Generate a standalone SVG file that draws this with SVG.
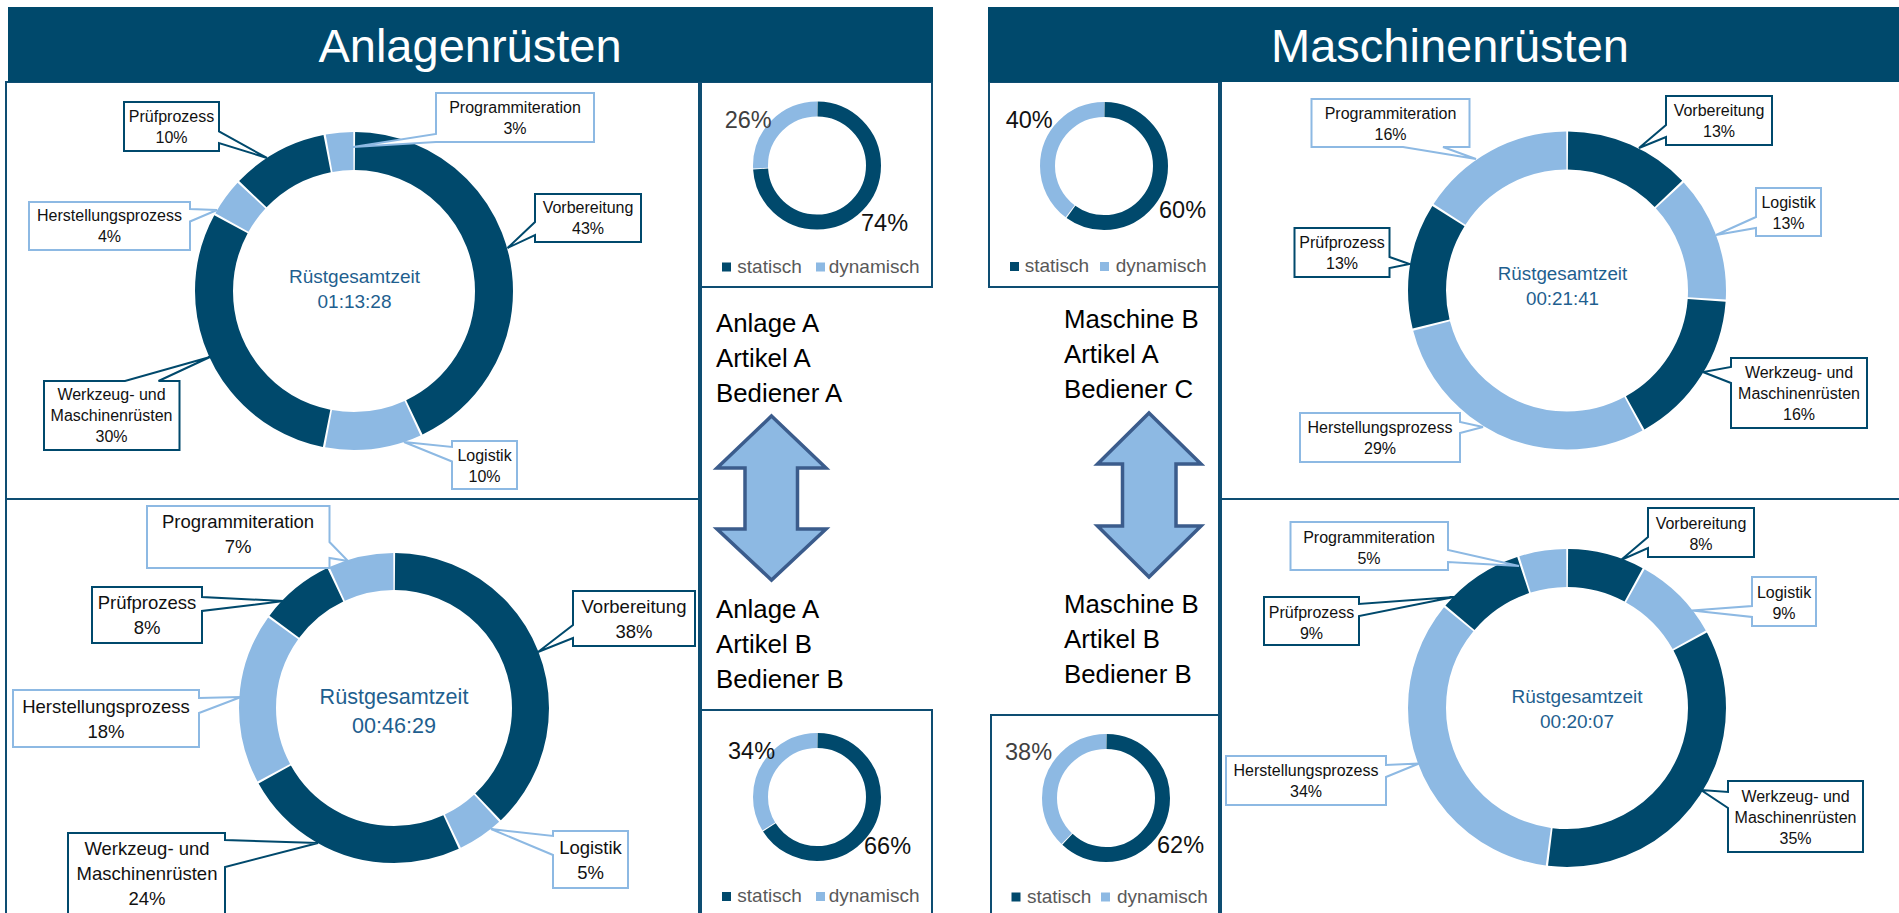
<svg xmlns="http://www.w3.org/2000/svg" width="1899" height="913" viewBox="0 0 1899 913">
<style>
text{font-family:"Liberation Sans",Arial,sans-serif}
.frame{fill:none;stroke:#0E4D72;stroke-width:2}
.hdrbg{fill:#00496C}
.hdr{fill:#fff;font-size:47px;text-anchor:middle}
.dk{fill:none;stroke:#00496C}
.lt{fill:none;stroke:#8DB9E3}
.cd{fill:#fff;stroke:#00496C;stroke-width:2}
.cl{fill:#fff;stroke:#8DB9E3;stroke-width:2}
.lbl{font-size:16px;fill:#111;text-anchor:middle}
.lbl2{font-size:18.5px;fill:#111;text-anchor:middle}
.ctr{fill:#1F5F8F;text-anchor:middle}
.mid{font-size:25.8px;fill:#000}
.pct{font-size:23.5px;fill:#111}
.pctg{font-size:23.5px;fill:#404040}
.leg{font-size:19px;fill:#595959}
.arrow{fill:#8DB9E3;stroke:#3B5C8C;stroke-width:3.5;stroke-linejoin:miter}
</style>

<!-- frames -->
<g id="frames">
<rect x="6" y="82" width="693" height="840" class="frame"/>
<line x1="6" y1="499" x2="701" y2="499" class="frame"/>
<line x1="701" y1="82" x2="701" y2="913" class="frame"/>
<rect x="701" y="82" width="231" height="205" class="frame"/>
<rect x="701" y="710" width="231" height="210" class="frame"/>
<rect x="989" y="82" width="230" height="205" class="frame"/>
<rect x="991" y="715" width="228" height="205" class="frame"/>
<line x1="1219" y1="82" x2="1219" y2="913" class="frame"/>
<line x1="1221" y1="82" x2="1221" y2="913" class="frame"/>
<line x1="1219" y1="499" x2="1899" y2="499" class="frame"/>
</g>

<!-- headers -->
<g id="header-left">
<rect x="8" y="7" width="925" height="75" class="hdrbg"/>
<text x="470" y="62" class="hdr">Anlagenrüsten</text>
</g>
<g id="header-right">
<rect x="988" y="7" width="911" height="75" class="hdrbg"/>
<text x="1450" y="62" class="hdr">Maschinenrüsten</text>
</g>

<!-- Top-left donut -->
<g id="chart-tl">
<g transform="rotate(-90 354 291)" stroke-width="38">
<circle cx="354" cy="291" r="140" class="dk" stroke-dasharray="376.25 2000" stroke-dashoffset="-1"/>
<circle cx="354" cy="291" r="140" class="lt" stroke-dasharray="85.96 2000" stroke-dashoffset="-379.25"/>
<circle cx="354" cy="291" r="140" class="dk" stroke-dasharray="261.89 2000" stroke-dashoffset="-467.21"/>
<circle cx="354" cy="291" r="140" class="lt" stroke-dasharray="33.19 2000" stroke-dashoffset="-731.11"/>
<circle cx="354" cy="291" r="140" class="dk" stroke-dasharray="85.96 2000" stroke-dashoffset="-766.29"/>
<circle cx="354" cy="291" r="140" class="lt" stroke-dasharray="24.39 2000" stroke-dashoffset="-854.26"/>
</g>
<text x="354.5" y="283" class="ctr" font-size="19">Rüstgesamtzeit</text>
<text x="354.5" y="308" class="ctr" font-size="19">01:13:28</text>
</g>
<g id="tl-pruef"><path class="cd" d="M124 102 H219 V131.5 L267 158 L219 143 V151 H124 Z"/><text class="lbl" x="171.5" y="122">Prüfprozess</text><text class="lbl" x="171.5" y="143">10%</text></g>
<g id="tl-prog"><path class="cl" d="M436 93 H594 V142 H436 L353 147 L436 134 Z"/><text class="lbl" x="515" y="112.5">Programmiteration</text><text class="lbl" x="515" y="133.5">3%</text></g>
<g id="tl-vorb"><path class="cd" d="M535 194 H641 V242 H535 V235 L507.5 248 L535 222 Z"/><text class="lbl" x="588" y="213">Vorbereitung</text><text class="lbl" x="588" y="234">43%</text></g>
<g id="tl-herst"><path class="cl" d="M29 202 H190 V209 L217 210 L190 221.5 V250 H29 Z"/><text class="lbl" x="109.5" y="221">Herstellungsprozess</text><text class="lbl" x="109.5" y="242">4%</text></g>
<g id="tl-werk"><path class="cd" d="M44 381 H125 L210 357 L158.5 381 H179.5 V450 H44 Z"/><text class="lbl" x="111.5" y="400">Werkzeug- und</text><text class="lbl" x="111.5" y="421">Maschinenrüsten</text><text class="lbl" x="111.5" y="442">30%</text></g>
<g id="tl-log"><path class="cl" d="M452 441 H517 V489 H452 V461.5 L404 442 L452 447 Z"/><text class="lbl" x="484.5" y="461">Logistik</text><text class="lbl" x="484.5" y="482">10%</text></g>

<!-- Bottom-left donut -->
<g id="chart-bl">
<g transform="rotate(-90 394 708)" stroke-width="37">
<circle cx="394" cy="708" r="136.5" class="dk" stroke-dasharray="323.91 2000" stroke-dashoffset="-1"/>
<circle cx="394" cy="708" r="136.5" class="lt" stroke-dasharray="40.88 2000" stroke-dashoffset="-326.91"/>
<circle cx="394" cy="708" r="136.5" class="dk" stroke-dasharray="203.84 2000" stroke-dashoffset="-369.79"/>
<circle cx="394" cy="708" r="136.5" class="lt" stroke-dasharray="152.38 2000" stroke-dashoffset="-575.63"/>
<circle cx="394" cy="708" r="136.5" class="dk" stroke-dasharray="66.61 2000" stroke-dashoffset="-730.01"/>
<circle cx="394" cy="708" r="136.5" class="lt" stroke-dasharray="58.04 2000" stroke-dashoffset="-798.62"/>
</g>
<text x="394" y="704" class="ctr" font-size="21.6">Rüstgesamtzeit</text>
<text x="394" y="733" class="ctr" font-size="21.6">00:46:29</text>
</g>
<g id="bl-prog"><path class="cl" d="M147 506 H329.5 V542 L348 561 L329.5 558 V568 H147 Z"/><text class="lbl2" x="238" y="528">Programmiteration</text><text class="lbl2" x="238" y="553">7%</text></g>
<g id="bl-pruef"><path class="cd" d="M92 587 H202 V597 L284 601 L202 611 V643 H92 Z"/><text class="lbl2" x="147" y="608.5">Prüfprozess</text><text class="lbl2" x="147" y="633.5">8%</text></g>
<g id="bl-vorb"><path class="cd" d="M573 591 H695 V646 H573 V638 L538 652 L573 625 Z"/><text class="lbl2" x="634" y="613">Vorbereitung</text><text class="lbl2" x="634" y="637.5">38%</text></g>
<g id="bl-herst"><path class="cl" d="M13 690 H199 V698 L241 697 L199 713 V747 H13 Z"/><text class="lbl2" x="106" y="713">Herstellungsprozess</text><text class="lbl2" x="106" y="737.5">18%</text></g>
<g id="bl-werk"><path class="cd" d="M68 833 H225 V840 L318 843 L225 867 V920 H68 Z"/><text class="lbl2" x="147" y="855">Werkzeug- und</text><text class="lbl2" x="147" y="880">Maschinenrüsten</text><text class="lbl2" x="147" y="905">24%</text></g>
<g id="bl-log"><path class="cl" d="M553 831 H628 V888 H553 V855 L491 829 L553 836 Z"/><text class="lbl2" x="590.5" y="854">Logistik</text><text class="lbl2" x="590.5" y="879">5%</text></g>

<!-- Top-right donut -->
<g id="chart-tr">
<g transform="rotate(-90 1567 290.5)" stroke-width="38">
<circle cx="1567" cy="290.5" r="140" class="dk" stroke-dasharray="112.35 2000" stroke-dashoffset="-1"/>
<circle cx="1567" cy="290.5" r="140" class="lt" stroke-dasharray="112.35 2000" stroke-dashoffset="-115.35"/>
<circle cx="1567" cy="290.5" r="140" class="dk" stroke-dasharray="138.74 2000" stroke-dashoffset="-229.71"/>
<circle cx="1567" cy="290.5" r="140" class="lt" stroke-dasharray="253.10 2000" stroke-dashoffset="-370.45"/>
<circle cx="1567" cy="290.5" r="140" class="dk" stroke-dasharray="112.35 2000" stroke-dashoffset="-625.55"/>
<circle cx="1567" cy="290.5" r="140" class="lt" stroke-dasharray="138.74 2000" stroke-dashoffset="-739.90"/>
</g>
<text x="1562.5" y="280" class="ctr" font-size="18.8">Rüstgesamtzeit</text>
<text x="1562.5" y="305" class="ctr" font-size="18.8">00:21:41</text>
</g>
<g id="tr-prog"><path class="cl" d="M1311.5 99 H1469.5 V147 H1443 L1476 159 L1403 147 H1311.5 Z"/><text class="lbl" x="1390.5" y="119">Programmiteration</text><text class="lbl" x="1390.5" y="140">16%</text></g>
<g id="tr-vorb"><path class="cd" d="M1666 96 H1772 V145 H1666 V137 L1639 148 L1666 125 Z"/><text class="lbl" x="1719" y="116">Vorbereitung</text><text class="lbl" x="1719" y="137">13%</text></g>
<g id="tr-log"><path class="cl" d="M1756 188 H1821 V236 H1756 V228 L1716 235 L1756 217 Z"/><text class="lbl" x="1788.5" y="208">Logistik</text><text class="lbl" x="1788.5" y="229">13%</text></g>
<g id="tr-pruef"><path class="cd" d="M1294.5 228 H1389.5 V257 L1409.5 264 L1389.5 268 V277 H1294.5 Z"/><text class="lbl" x="1342" y="248">Prüfprozess</text><text class="lbl" x="1342" y="269">13%</text></g>
<g id="tr-werk"><path class="cd" d="M1731 358 H1867 V428 H1731 V383 L1703 372 L1731 367 Z"/><text class="lbl" x="1799" y="378">Werkzeug- und</text><text class="lbl" x="1799" y="399">Maschinenrüsten</text><text class="lbl" x="1799" y="420">16%</text></g>
<g id="tr-herst"><path class="cl" d="M1300 413 H1460 V422 L1483 427 L1460 433 V462 H1300 Z"/><text class="lbl" x="1380" y="433">Herstellungsprozess</text><text class="lbl" x="1380" y="454">29%</text></g>

<!-- Bottom-right donut -->
<g id="chart-br">
<g transform="rotate(-90 1567 708)" stroke-width="38">
<circle cx="1567" cy="708" r="140" class="dk" stroke-dasharray="68.37 2000" stroke-dashoffset="-1"/>
<circle cx="1567" cy="708" r="140" class="lt" stroke-dasharray="77.17 2000" stroke-dashoffset="-71.37"/>
<circle cx="1567" cy="708" r="140" class="dk" stroke-dasharray="305.88 2000" stroke-dashoffset="-150.54"/>
<circle cx="1567" cy="708" r="140" class="lt" stroke-dasharray="297.08 2000" stroke-dashoffset="-458.42"/>
<circle cx="1567" cy="708" r="140" class="dk" stroke-dasharray="77.17 2000" stroke-dashoffset="-757.50"/>
<circle cx="1567" cy="708" r="140" class="lt" stroke-dasharray="41.98 2000" stroke-dashoffset="-836.66"/>
</g>
<text x="1577" y="703" class="ctr" font-size="19">Rüstgesamtzeit</text>
<text x="1577" y="728" class="ctr" font-size="19">00:20:07</text>
</g>
<g id="br-prog"><path class="cl" d="M1290.5 522 H1448 V550 L1519 566 L1448 562 V570 H1290.5 Z"/><text class="lbl" x="1369" y="543">Programmiteration</text><text class="lbl" x="1369" y="564">5%</text></g>
<g id="br-vorb"><path class="cd" d="M1648 508 H1754 V557 H1648 V548 L1621 560 L1648 537 Z"/><text class="lbl" x="1701" y="529">Vorbereitung</text><text class="lbl" x="1701" y="550">8%</text></g>
<g id="br-log"><path class="cl" d="M1752 577 H1816 V626 H1752 V617 L1692 610.5 L1752 606 Z"/><text class="lbl" x="1784" y="598">Logistik</text><text class="lbl" x="1784" y="619">9%</text></g>
<g id="br-pruef"><path class="cd" d="M1264 597 H1359 V604 L1454 597 L1359 616 V645 H1264 Z"/><text class="lbl" x="1311.5" y="618">Prüfprozess</text><text class="lbl" x="1311.5" y="639">9%</text></g>
<g id="br-herst"><path class="cl" d="M1226 756 H1386 V765 L1419 763.5 L1386 777 V805 H1226 Z"/><text class="lbl" x="1306" y="776">Herstellungsprozess</text><text class="lbl" x="1306" y="797">34%</text></g>
<g id="br-werk"><path class="cd" d="M1728 781 H1863 V852 H1728 V808 L1701 790 L1728 792 Z"/><text class="lbl" x="1795.5" y="802">Werkzeug- und</text><text class="lbl" x="1795.5" y="823">Maschinenrüsten</text><text class="lbl" x="1795.5" y="844">35%</text></g>

<!-- Small donuts -->
<g id="small-tl">
<g transform="rotate(-90 817 165.5)" stroke-width="15">
<circle cx="817" cy="165.5" r="56.5" class="dk" stroke-dasharray="261.69 1000" stroke-dashoffset="-0.5"/>
<circle cx="817" cy="165.5" r="56.5" class="lt" stroke-dasharray="91.30 1000" stroke-dashoffset="-263.19"/>
</g>
<text x="724.7" y="128" class="pctg">26%</text>
<text x="861" y="231" class="pct">74%</text>
<rect x="722" y="262.5" width="9" height="9" fill="#00496C"/><text x="737.3" y="272.5" class="leg">statisch</text>
<rect x="816" y="262.5" width="9" height="9" fill="#8DB9E3"/><text x="828.7" y="272.5" class="leg">dynamisch</text>
</g>
<g id="small-tr">
<g transform="rotate(-90 1104 166)" stroke-width="15">
<circle cx="1104" cy="166" r="56.5" class="dk" stroke-dasharray="211.99 1000" stroke-dashoffset="-0.5"/>
<circle cx="1104" cy="166" r="56.5" class="lt" stroke-dasharray="141.0 1000" stroke-dashoffset="-213.49"/>
</g>
<text x="1005.7" y="128" class="pct">40%</text>
<text x="1159" y="218" class="pct">60%</text>
<rect x="1010" y="262" width="9" height="9" fill="#00496C"/><text x="1024.7" y="272" class="leg">statisch</text>
<rect x="1100" y="262" width="9" height="9" fill="#8DB9E3"/><text x="1115.7" y="272" class="leg">dynamisch</text>
</g>
<g id="small-bl">
<g transform="rotate(-90 817 797)" stroke-width="15">
<circle cx="817" cy="797" r="56.5" class="dk" stroke-dasharray="233.29 1000" stroke-dashoffset="-0.5"/>
<circle cx="817" cy="797" r="56.5" class="lt" stroke-dasharray="119.70 1000" stroke-dashoffset="-234.79"/>
</g>
<text x="728" y="759" class="pct">34%</text>
<text x="864" y="854" class="pct">66%</text>
<rect x="722" y="892" width="9" height="9" fill="#00496C"/><text x="737.3" y="902" class="leg">statisch</text>
<rect x="816" y="892" width="9" height="9" fill="#8DB9E3"/><text x="828.7" y="902" class="leg">dynamisch</text>
</g>
<g id="small-br">
<g transform="rotate(-90 1106 798)" stroke-width="15">
<circle cx="1106" cy="798" r="56.5" class="dk" stroke-dasharray="219.09 1000" stroke-dashoffset="-0.5"/>
<circle cx="1106" cy="798" r="56.5" class="lt" stroke-dasharray="133.90 1000" stroke-dashoffset="-220.59"/>
</g>
<text x="1005" y="760" class="pctg">38%</text>
<text x="1157" y="853" class="pct">62%</text>
<rect x="1011.5" y="892.5" width="9" height="9" fill="#00496C"/><text x="1027" y="902.5" class="leg">statisch</text>
<rect x="1101" y="892.5" width="9" height="9" fill="#8DB9E3"/><text x="1117" y="902.5" class="leg">dynamisch</text>
</g>

<!-- Middle comparison texts -->
<g id="cmp-left-top"><text class="mid" x="716" y="331.5">Anlage A</text><text class="mid" x="716" y="366.5">Artikel A</text><text class="mid" x="716" y="401.5">Bediener A</text></g>
<g id="cmp-left-bottom"><text class="mid" x="716" y="618">Anlage A</text><text class="mid" x="716" y="653">Artikel B</text><text class="mid" x="716" y="688">Bediener B</text></g>
<g id="cmp-right-top"><text class="mid" x="1064" y="328">Maschine B</text><text class="mid" x="1064" y="363">Artikel A</text><text class="mid" x="1064" y="398">Bediener C</text></g>
<g id="cmp-right-bottom"><text class="mid" x="1064" y="613">Maschine B</text><text class="mid" x="1064" y="648">Artikel B</text><text class="mid" x="1064" y="683">Bediener B</text></g>

<!-- connectors: up-down arrows -->
<g id="connectors">
<polygon class="arrow" points="771.5,416 826,468 797.5,468 797.5,529 826,529 771.5,580 717,529 745,529 745,468 717,468"/>
<polygon class="arrow" points="1149,413 1201,464 1176,464 1176,526 1201,526 1149,577 1097.5,526 1122.5,526 1122.5,464 1097.5,464"/>
</g>
</svg>
